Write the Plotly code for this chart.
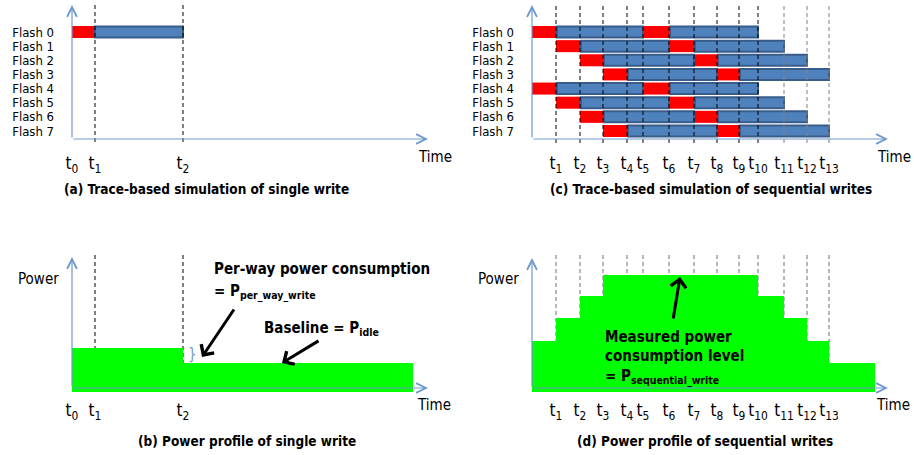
import plotly.graph_objects as go

W, H = 914, 455
FONT = "DejaVu Sans Condensed, DejaVu Sans, sans-serif"
AXC = "#6f98cc"
RED = "#ff0000"
BLUE = "#4f81bd"
BLUE_EDGE = "#385d8a"
GREEN = "#00ff00"

# ---------------- data ----------------
flash_rows = [0, 1, 2, 3, 4, 5, 6, 7]
flash_labels = ["Flash 0", "Flash 1", "Flash 2", "Flash 3",
                "Flash 4", "Flash 5", "Flash 6", "Flash 7"]

# (a) single write: time points t0, t1, t2
times_a = [0, 23, 111]
labels_a = ["t<sub>0</sub>", "t<sub>1</sub>", "t<sub>2</sub>"]
single_red = [0, 23]      # data transfer t0 -> t1
single_blue = [23, 111]   # program t1 -> t2

# (b) power profile of single write
power_b_x = [0, 111, 341]
power_b_y = [44, 29, 29]

# (c) sequential writes: time points t0 .. t13
times_c = [0, 24, 48, 71, 95, 111, 137, 162, 185, 207, 226, 252, 275, 297]
labels_c = ["t<sub>1</sub>", "t<sub>2</sub>", "t<sub>3</sub>", "t<sub>4</sub>",
            "t<sub>5</sub>", "t<sub>6</sub>", "t<sub>7</sub>", "t<sub>8</sub>",
            "t<sub>9</sub>", "t<sub>10</sub>", "t<sub>11</sub>", "t<sub>12</sub>",
            "t<sub>13</sub>"]
seg_rows = [0, 0, 1, 1, 2, 2, 3, 3, 4, 4, 5, 5, 6, 6, 7, 7]
red_from = [0, 5, 1, 6, 2, 7, 3, 8, 0, 5, 1, 6, 2, 7, 3, 8]
red_to = [1, 6, 2, 7, 3, 8, 4, 9, 1, 6, 2, 7, 3, 8, 4, 9]
blue_from = [1, 6, 2, 7, 3, 8, 4, 9, 1, 6, 2, 7, 3, 8, 4, 9]
blue_to = [5, 10, 6, 11, 7, 12, 8, 13, 5, 10, 6, 11, 7, 12, 8, 13]
dash_gray_from = 10  # t11..t13 drawn in grey

# (d) power profile of sequential writes
power_d_x = [0, 24, 48, 71, 226, 252, 275, 297, 343]
power_d_y = [51, 74, 96, 117, 96, 74, 51, 29, 29]


# ---------------- geometry helpers ----------------
def xd(p0, p1):
    return [p0 / W, p1 / W]


def yd(top, bottom):
    return [1 - bottom / H, 1 - top / H]


ROW0_PX, ROW_STEP = 32, 14.14


def row_val(px):
    return (px - ROW0_PX) / ROW_STEP


fig = go.Figure()

# ---------------- panel (a) ----------------
fig.add_trace(go.Bar(y=[0], base=[single_red[0]], x=[single_red[1] - single_red[0]],
                     orientation="h", width=0.85, marker=dict(color=RED, line=dict(width=0)),
                     xaxis="x", yaxis="y"))
fig.add_trace(go.Bar(y=[0], base=[single_blue[0]], x=[single_blue[1] - single_blue[0]],
                     orientation="h", width=0.78,
                     marker=dict(color=BLUE, line=dict(width=2, color=BLUE_EDGE)),
                     xaxis="x", yaxis="y"))
dx, dy = [], []
for t in times_a[1:]:
    dx += [t, t, None]
    dy += [row_val(5), row_val(143), None]
fig.add_trace(go.Scatter(x=dx, y=dy, mode="lines", line=dict(color="black", width=1, dash="4px,3px"),
                         xaxis="x", yaxis="y", hoverinfo="skip"))

# ---------------- panel (c) ----------------
fig.add_trace(go.Bar(y=seg_rows, base=[times_c[i] for i in red_from],
                     x=[times_c[b] - times_c[a] for a, b in zip(red_from, red_to)],
                     orientation="h", width=0.85, marker=dict(color=RED, line=dict(width=0)),
                     xaxis="x3", yaxis="y3"))
fig.add_trace(go.Bar(y=seg_rows, base=[times_c[i] + 1 for i in blue_from],
                     x=[times_c[b] - times_c[a] - 1 for a, b in zip(blue_from, blue_to)],
                     orientation="h", width=0.78,
                     marker=dict(color=BLUE, line=dict(width=2, color=BLUE_EDGE)),
                     xaxis="x3", yaxis="y3"))
for grp, col in [(range(1, dash_gray_from + 1), "black"), (range(dash_gray_from + 1, 14), "#808080")]:
    dx, dy = [], []
    for i in grp:
        dx += [times_c[i], times_c[i], None]
        dy += [row_val(6), row_val(143), None]
    fig.add_trace(go.Scatter(x=dx, y=dy, mode="lines", line=dict(color=col, width=1, dash="4px,3px"),
                             xaxis="x3", yaxis="y3", hoverinfo="skip"))

# ---------------- panel (b) ----------------
dx, dy = [], []
for t in times_a[1:]:
    dx += [t, t, None]
    dy += [0, 137, None]
fig.add_trace(go.Scatter(x=dx, y=dy, mode="lines", line=dict(color="black", width=1, dash="4px,3px"),
                         xaxis="x2", yaxis="y2", hoverinfo="skip"))
fig.add_trace(go.Scatter(x=power_b_x, y=power_b_y, mode="lines", line=dict(width=0, shape="hv", color=GREEN),
                         fill="tozeroy", fillcolor=GREEN, xaxis="x2", yaxis="y2", hoverinfo="skip"))

# ---------------- panel (d) ----------------
dx, dy = [], []
for t in times_c[1:]:
    dx += [t, t, None]
    dy += [0, 140, None]
fig.add_trace(go.Scatter(x=dx, y=dy, mode="lines", line=dict(color="#6e6e6e", width=1, dash="4px,3px"),
                         xaxis="x4", yaxis="y4", hoverinfo="skip"))
fig.add_trace(go.Scatter(x=power_d_x, y=power_d_y, mode="lines", line=dict(width=0, shape="hv", color=GREEN),
                         fill="tozeroy", fillcolor=GREEN, xaxis="x4", yaxis="y4", hoverinfo="skip"))

# ---------------- axes ----------------
tick_font = dict(family=FONT, size=17, color="black")
flash_font = dict(family=FONT, size=13, color="black")
common = dict(showgrid=False, zeroline=False, showline=False, ticks="", automargin=False, fixedrange=True)

fig.update_layout(
    xaxis=dict(domain=xd(72, 440), range=[0, 368], anchor="y", tickvals=times_a, ticktext=labels_a,
               tickfont=tick_font, ticklabelstandoff=6, **common),
    yaxis=dict(domain=yd(5, 145), range=[row_val(145), row_val(5)], anchor="x",
               tickvals=flash_rows, ticktext=flash_labels, tickfont=flash_font, ticklabelstandoff=17, **common),
    xaxis2=dict(domain=xd(72, 440), range=[0, 368], anchor="y2", tickvals=times_a, ticktext=labels_a,
                tickfont=tick_font, ticklabelstandoff=6, **common),
    yaxis2=dict(domain=yd(255, 392), range=[0, 137], anchor="x2", showticklabels=False, **common),
    xaxis3=dict(domain=xd(532, 900), range=[0, 368], anchor="y3", tickvals=times_c[1:], ticktext=labels_c,
                tickfont=tick_font, ticklabelstandoff=6, **common),
    yaxis3=dict(domain=yd(5, 145), range=[row_val(145), row_val(5)], anchor="x3",
                tickvals=flash_rows, ticktext=flash_labels, tickfont=flash_font, ticklabelstandoff=17, **common),
    xaxis4=dict(domain=xd(532, 900), range=[0, 368], anchor="y4", tickvals=times_c[1:], ticktext=labels_c,
                tickfont=tick_font, ticklabelstandoff=6, **common),
    yaxis4=dict(domain=yd(255, 392), range=[0, 137], anchor="x4", showticklabels=False, **common),
)

ann = []


def axis_arrow(xr, yr, x0, y0, x1, y1):
    ann.append(dict(x=x1, y=y1, ax=x0, ay=y0, xref=xr, yref=yr, axref=xr, ayref=yr, text="",
                    showarrow=True, arrowhead=5, arrowsize=1.6, arrowwidth=1.2, arrowcolor=AXC,
                    standoff=0, startstandoff=0))


# axis arrows
axis_arrow("x", "y", 0, row_val(139), 0, row_val(5))
axis_arrow("x", "y", 0, row_val(139), 356, row_val(139))
axis_arrow("x3", "y3", 0, row_val(139), 0, row_val(5))
axis_arrow("x3", "y3", 0, row_val(139), 356, row_val(139))
axis_arrow("x2", "y2", 0, 4, 0, 135)
axis_arrow("x2", "y2", 0, 4, 356, 4)
axis_arrow("x4", "y4", 0, 4, 0, 134)
axis_arrow("x4", "y4", 0, 4, 356, 4)


def text_px(text, x, y, size, xanchor="center", color="black"):
    ann.append(dict(text=text, x=x / W, y=1 - y / H, xref="paper", yref="paper", xanchor=xanchor,
                    yanchor="middle", showarrow=False, font=dict(family=FONT, size=size, color=color)))


def arrow_px(x0, y0, x1, y1):
    ann.append(dict(text="", x=x1 / W, y=1 - y1 / H, xref="paper", yref="paper",
                    ax=x0 - x1, ay=y0 - y1, axref="pixel", ayref="pixel", showarrow=True,
                    arrowhead=4, arrowsize=1.0, arrowwidth=3, arrowcolor="black", standoff=0))


# axis words
text_px("Time", 435, 157, 15)
text_px("Time", 894, 157, 15)
text_px("Time", 434, 405, 15)
text_px("Time", 893, 405, 15)
text_px("Power", 38, 279, 15)
text_px("Power", 498, 279, 15)

# titles
text_px("<b>(a) Trace-based simulation of single write</b>", 206, 189, 13.5)
text_px("<b>(c) Trace-based simulation of sequential writes</b>", 711, 189, 13.5)
text_px("<b>(b) Power profile of single write</b>", 247, 441, 13.5)
text_px("<b>(d) Power profile of sequential writes</b>", 705, 441, 13.5)

# panel (b) notes
text_px("<b>Per-way power consumption</b>", 212, 269, 15, xanchor="left")
text_px("<b>= P<sub>per_way_write</sub></b>", 212, 292, 15, xanchor="left")
text_px("<b>Baseline = P<sub>idle</sub></b>", 262, 328, 15, xanchor="left")
text_px("}", 192, 354, 15, color=AXC)
arrow_px(235, 308, 202, 357)
arrow_px(320, 340, 282, 363)

# panel (d) notes
text_px("<b>Measured power</b>", 603, 337, 15, xanchor="left")
text_px("<b>consumption level</b>", 603, 356, 15, xanchor="left")
text_px("<b>= P<sub>sequential_write</sub></b>", 603, 377, 15, xanchor="left")
arrow_px(673, 320, 680, 277)

fig.update_layout(
    width=W, height=H, margin=dict(l=0, r=0, t=0, b=0, pad=0),
    paper_bgcolor="white", plot_bgcolor="white", showlegend=False,
    barmode="overlay", annotations=ann, font=dict(family=FONT),
)

fig.write_html("out.html")
